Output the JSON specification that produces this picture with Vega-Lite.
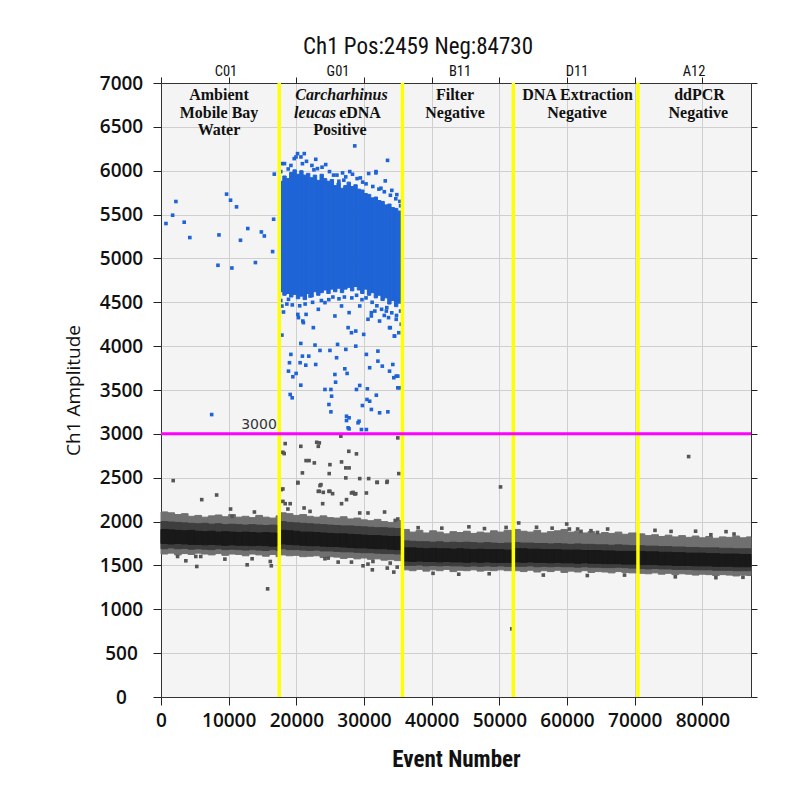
{
"$schema": "https://vega.github.io/schema/vega-lite/v6.json",
"width": 590, "height": 614,
"autosize": {"type": "none"},
"padding": {"left": 161, "top": 83, "right": 58, "bottom": 115},
"background": "white",
"title": {"text": "Ch1 Pos:2459 Neg:84730", "font": "Roboto Condensed, Roboto, sans-serif", "fontSize": 23, "fontWeight": "normal", "color": "#111", "dx": -38, "offset": 5, "anchor": "middle"},
"config": {
  "view": {"fill": "#f4f4f4", "stroke": "#555", "strokeWidth": 1},
  "axis": {"gridColor": "#cfcfcf", "gridWidth": 1, "tickColor": "#222", "domainColor": "#333", "labelFont": "Open Sans", "labelFontSize": 19, "labelColor": "#111", "labelFontWeight": 600, "tickSize": 8, "labelOverlap": false}
},
"datasets": {
  "band": [
    {"s":0,"e":1000,"o1":1630,"o2":2110,"m1":1690,"m2":2000,"c1":1750,"c2":1910},
    {"s":1000,"e":2000,"o1":1640,"o2":2100,"m1":1700,"m2":1995,"c1":1745,"c2":1905},
    {"s":2000,"e":3000,"o1":1620,"o2":2080,"m1":1690,"m2":1990,"c1":1750,"c2":1900},
    {"s":3000,"e":4000,"o1":1635,"o2":2090,"m1":1695,"m2":1985,"c1":1745,"c2":1895},
    {"s":4000,"e":5000,"o1":1625,"o2":2060,"m1":1685,"m2":1980,"c1":1740,"c2":1900},
    {"s":5000,"e":6000,"o1":1640,"o2":2070,"m1":1690,"m2":1975,"c1":1740,"c2":1890},
    {"s":6000,"e":7000,"o1":1630,"o2":2050,"m1":1685,"m2":1980,"c1":1735,"c2":1885},
    {"s":7000,"e":8000,"o1":1620,"o2":2065,"m1":1680,"m2":1970,"c1":1740,"c2":1890},
    {"s":8000,"e":9000,"o1":1635,"o2":2075,"m1":1690,"m2":1975,"c1":1735,"c2":1880},
    {"s":9000,"e":10000,"o1":1615,"o2":2055,"m1":1680,"m2":1965,"c1":1730,"c2":1885},
    {"s":10000,"e":11000,"o1":1630,"o2":2080,"m1":1685,"m2":1970,"c1":1735,"c2":1880},
    {"s":11000,"e":12000,"o1":1625,"o2":2050,"m1":1680,"m2":1965,"c1":1730,"c2":1875},
    {"s":12000,"e":13000,"o1":1610,"o2":2060,"m1":1675,"m2":1960,"c1":1730,"c2":1880},
    {"s":13000,"e":14000,"o1":1630,"o2":2045,"m1":1680,"m2":1965,"c1":1725,"c2":1875},
    {"s":14000,"e":15000,"o1":1620,"o2":2070,"m1":1675,"m2":1960,"c1":1730,"c2":1870},
    {"s":15000,"e":16000,"o1":1605,"o2":2050,"m1":1670,"m2":1955,"c1":1725,"c2":1875},
    {"s":16000,"e":17000,"o1":1625,"o2":2040,"m1":1680,"m2":1960,"c1":1720,"c2":1870},
    {"s":17000,"e":17474,"o1":1600,"o2":2065,"m1":1670,"m2":1955,"c1":1725,"c2":1865},
    {"s":17474,"e":18500,"o1":1620,"o2":2100,"m1":1690,"m2":2000,"c1":1745,"c2":1900},
    {"s":18500,"e":19500,"o1":1610,"o2":2090,"m1":1680,"m2":1990,"c1":1740,"c2":1895},
    {"s":19500,"e":20500,"o1":1615,"o2":2070,"m1":1680,"m2":1985,"c1":1735,"c2":1890},
    {"s":20500,"e":21500,"o1":1600,"o2":2080,"m1":1675,"m2":1980,"c1":1730,"c2":1880},
    {"s":21500,"e":22500,"o1":1605,"o2":2060,"m1":1670,"m2":1975,"c1":1725,"c2":1880},
    {"s":22500,"e":23500,"o1":1610,"o2":2050,"m1":1675,"m2":1970,"c1":1725,"c2":1875},
    {"s":23500,"e":24500,"o1":1590,"o2":2065,"m1":1665,"m2":1965,"c1":1720,"c2":1870},
    {"s":24500,"e":25500,"o1":1600,"o2":2045,"m1":1665,"m2":1960,"c1":1715,"c2":1865},
    {"s":25500,"e":26500,"o1":1595,"o2":2040,"m1":1660,"m2":1955,"c1":1715,"c2":1860},
    {"s":26500,"e":27500,"o1":1580,"o2":2055,"m1":1655,"m2":1950,"c1":1710,"c2":1860},
    {"s":27500,"e":28500,"o1":1590,"o2":2030,"m1":1655,"m2":1950,"c1":1705,"c2":1855},
    {"s":28500,"e":29500,"o1":1575,"o2":2040,"m1":1650,"m2":1945,"c1":1700,"c2":1850},
    {"s":29500,"e":30500,"o1":1585,"o2":2020,"m1":1645,"m2":1940,"c1":1700,"c2":1845},
    {"s":30500,"e":31500,"o1":1570,"o2":2010,"m1":1645,"m2":1935,"c1":1695,"c2":1840},
    {"s":31500,"e":32500,"o1":1575,"o2":2025,"m1":1640,"m2":1930,"c1":1690,"c2":1840},
    {"s":32500,"e":33500,"o1":1560,"o2":2000,"m1":1635,"m2":1930,"c1":1690,"c2":1835},
    {"s":33500,"e":34500,"o1":1565,"o2":1990,"m1":1635,"m2":1925,"c1":1685,"c2":1830},
    {"s":34500,"e":35683,"o1":1555,"o2":2010,"m1":1630,"m2":1920,"c1":1680,"c2":1830},
    {"s":35683,"e":36700,"o1":1450,"o2":1910,"m1":1500,"m2":1780,"c1":1550,"c2":1700},
    {"s":36700,"e":37700,"o1":1440,"o2":1880,"m1":1500,"m2":1775,"c1":1545,"c2":1700},
    {"s":37700,"e":38700,"o1":1455,"o2":1900,"m1":1505,"m2":1770,"c1":1550,"c2":1695},
    {"s":38700,"e":39700,"o1":1435,"o2":1870,"m1":1495,"m2":1770,"c1":1545,"c2":1690},
    {"s":39700,"e":40700,"o1":1450,"o2":1895,"m1":1500,"m2":1765,"c1":1545,"c2":1695},
    {"s":40700,"e":41700,"o1":1440,"o2":1880,"m1":1495,"m2":1770,"c1":1540,"c2":1690},
    {"s":41700,"e":42700,"o1":1455,"o2":1860,"m1":1500,"m2":1760,"c1":1545,"c2":1690},
    {"s":42700,"e":43700,"o1":1430,"o2":1885,"m1":1495,"m2":1765,"c1":1540,"c2":1685},
    {"s":43700,"e":44700,"o1":1445,"o2":1875,"m1":1495,"m2":1760,"c1":1540,"c2":1690},
    {"s":44700,"e":45700,"o1":1440,"o2":1890,"m1":1490,"m2":1765,"c1":1535,"c2":1685},
    {"s":45700,"e":46700,"o1":1450,"o2":1865,"m1":1495,"m2":1760,"c1":1540,"c2":1680},
    {"s":46700,"e":47700,"o1":1435,"o2":1880,"m1":1490,"m2":1755,"c1":1535,"c2":1685},
    {"s":47700,"e":48700,"o1":1445,"o2":1870,"m1":1495,"m2":1760,"c1":1540,"c2":1680},
    {"s":48700,"e":49700,"o1":1440,"o2":1895,"m1":1490,"m2":1755,"c1":1535,"c2":1680},
    {"s":49700,"e":50700,"o1":1450,"o2":1880,"m1":1495,"m2":1750,"c1":1535,"c2":1680},
    {"s":50700,"e":52070,"o1":1440,"o2":1900,"m1":1490,"m2":1755,"c1":1535,"c2":1675},
    {"s":52070,"e":53100,"o1":1440,"o2":1910,"m1":1490,"m2":1760,"c1":1540,"c2":1690},
    {"s":53100,"e":54100,"o1":1430,"o2":1890,"m1":1490,"m2":1755,"c1":1535,"c2":1690},
    {"s":54100,"e":55100,"o1":1445,"o2":1880,"m1":1495,"m2":1755,"c1":1540,"c2":1685},
    {"s":55100,"e":56100,"o1":1425,"o2":1900,"m1":1485,"m2":1750,"c1":1535,"c2":1685},
    {"s":56100,"e":57100,"o1":1440,"o2":1870,"m1":1490,"m2":1750,"c1":1535,"c2":1680},
    {"s":57100,"e":58100,"o1":1430,"o2":1885,"m1":1485,"m2":1745,"c1":1530,"c2":1680},
    {"s":58100,"e":59100,"o1":1445,"o2":1895,"m1":1490,"m2":1750,"c1":1535,"c2":1680},
    {"s":59100,"e":60100,"o1":1420,"o2":1910,"m1":1485,"m2":1745,"c1":1530,"c2":1675},
    {"s":60100,"e":61100,"o1":1435,"o2":1880,"m1":1485,"m2":1740,"c1":1530,"c2":1675},
    {"s":61100,"e":62100,"o1":1425,"o2":1890,"m1":1480,"m2":1745,"c1":1525,"c2":1675},
    {"s":62100,"e":63100,"o1":1440,"o2":1870,"m1":1485,"m2":1740,"c1":1530,"c2":1670},
    {"s":63100,"e":64100,"o1":1420,"o2":1885,"m1":1480,"m2":1740,"c1":1525,"c2":1670},
    {"s":64100,"e":65100,"o1":1430,"o2":1860,"m1":1480,"m2":1735,"c1":1525,"c2":1670},
    {"s":65100,"e":66100,"o1":1425,"o2":1875,"m1":1475,"m2":1735,"c1":1520,"c2":1665},
    {"s":66100,"e":67100,"o1":1415,"o2":1865,"m1":1475,"m2":1730,"c1":1520,"c2":1665},
    {"s":67100,"e":68100,"o1":1430,"o2":1880,"m1":1480,"m2":1735,"c1":1520,"c2":1660},
    {"s":68100,"e":69100,"o1":1420,"o2":1855,"m1":1475,"m2":1730,"c1":1515,"c2":1660},
    {"s":69100,"e":70485,"o1":1415,"o2":1870,"m1":1470,"m2":1725,"c1":1515,"c2":1660},
    {"s":70485,"e":71500,"o1":1410,"o2":1860,"m1":1465,"m2":1725,"c1":1510,"c2":1660},
    {"s":71500,"e":72500,"o1":1405,"o2":1840,"m1":1460,"m2":1720,"c1":1510,"c2":1655},
    {"s":72500,"e":73500,"o1":1415,"o2":1850,"m1":1465,"m2":1720,"c1":1510,"c2":1655},
    {"s":73500,"e":74500,"o1":1400,"o2":1830,"m1":1460,"m2":1715,"c1":1505,"c2":1650},
    {"s":74500,"e":75500,"o1":1410,"o2":1845,"m1":1460,"m2":1715,"c1":1505,"c2":1650},
    {"s":75500,"e":76500,"o1":1395,"o2":1825,"m1":1455,"m2":1710,"c1":1500,"c2":1645},
    {"s":76500,"e":77500,"o1":1405,"o2":1840,"m1":1455,"m2":1710,"c1":1500,"c2":1645},
    {"s":77500,"e":78500,"o1":1400,"o2":1820,"m1":1455,"m2":1705,"c1":1500,"c2":1640},
    {"s":78500,"e":79500,"o1":1390,"o2":1835,"m1":1450,"m2":1705,"c1":1495,"c2":1640},
    {"s":79500,"e":80500,"o1":1400,"o2":1815,"m1":1450,"m2":1700,"c1":1495,"c2":1640},
    {"s":80500,"e":81500,"o1":1395,"o2":1830,"m1":1450,"m2":1700,"c1":1495,"c2":1635},
    {"s":81500,"e":82500,"o1":1385,"o2":1810,"m1":1445,"m2":1700,"c1":1490,"c2":1635},
    {"s":82500,"e":83500,"o1":1395,"o2":1825,"m1":1445,"m2":1695,"c1":1490,"c2":1630},
    {"s":83500,"e":84500,"o1":1390,"o2":1820,"m1":1445,"m2":1695,"c1":1490,"c2":1630},
    {"s":84500,"e":85500,"o1":1380,"o2":1835,"m1":1440,"m2":1690,"c1":1485,"c2":1630},
    {"s":85500,"e":86500,"o1":1390,"o2":1815,"m1":1440,"m2":1690,"c1":1485,"c2":1625},
    {"s":86500,"e":87189,"o1":1385,"o2":1825,"m1":1440,"m2":1690,"c1":1485,"c2":1625}
  ],
  "cloud": [
    {"s":17474,"e":18000,"lo":4620,"hi":5880},
    {"s":18000,"e":18500,"lo":4580,"hi":5940},
    {"s":18500,"e":19000,"lo":4600,"hi":5910},
    {"s":19000,"e":19500,"lo":4560,"hi":5980},
    {"s":19500,"e":20000,"lo":4590,"hi":6010},
    {"s":20000,"e":20500,"lo":4540,"hi":5960},
    {"s":20500,"e":21000,"lo":4570,"hi":6000},
    {"s":21000,"e":21500,"lo":4530,"hi":5950},
    {"s":21500,"e":22000,"lo":4600,"hi":5970},
    {"s":22000,"e":22500,"lo":4560,"hi":5920},
    {"s":22500,"e":23000,"lo":4620,"hi":5950},
    {"s":23000,"e":23500,"lo":4580,"hi":5890},
    {"s":23500,"e":24000,"lo":4610,"hi":5960},
    {"s":24000,"e":24500,"lo":4640,"hi":5910},
    {"s":24500,"e":25000,"lo":4600,"hi":5880},
    {"s":25000,"e":25500,"lo":4650,"hi":5900},
    {"s":25500,"e":26000,"lo":4620,"hi":5830},
    {"s":26000,"e":26500,"lo":4660,"hi":5860},
    {"s":26500,"e":27000,"lo":4610,"hi":5800},
    {"s":27000,"e":27500,"lo":4650,"hi":5830},
    {"s":27500,"e":28000,"lo":4670,"hi":5870},
    {"s":28000,"e":28500,"lo":4630,"hi":5820},
    {"s":28500,"e":29000,"lo":4680,"hi":5840},
    {"s":29000,"e":29500,"lo":4640,"hi":5790},
    {"s":29500,"e":30000,"lo":4600,"hi":5780},
    {"s":30000,"e":30500,"lo":4650,"hi":5740},
    {"s":30500,"e":31000,"lo":4580,"hi":5730},
    {"s":31000,"e":31500,"lo":4610,"hi":5690},
    {"s":31500,"e":32000,"lo":4550,"hi":5700},
    {"s":32000,"e":32500,"lo":4580,"hi":5660},
    {"s":32500,"e":33000,"lo":4520,"hi":5650},
    {"s":33000,"e":33500,"lo":4550,"hi":5610},
    {"s":33500,"e":34000,"lo":4480,"hi":5620},
    {"s":34000,"e":34500,"lo":4520,"hi":5580},
    {"s":34500,"e":35000,"lo":4450,"hi":5570},
    {"s":35000,"e":35683,"lo":4490,"hi":5540}
  ],
  "drops": [
    {"event":1806,"amp":2467,"cls":"neg"},{"event":6020,"amp":2250,"cls":"neg"},{"event":8223,"amp":2303,"cls":"neg"},{"event":10279,"amp":2143,"cls":"neg"},{"event":13803,"amp":2109,"cls":"neg"},{"event":10528,"amp":2059,"cls":"neg"},{"event":2452,"amp":1602,"cls":"neg"},{"event":3671,"amp":1553,"cls":"neg"},{"event":5139,"amp":1602,"cls":"neg"},{"event":5874,"amp":1602,"cls":"neg"},{"event":5286,"amp":1488,"cls":"neg"},{"event":9442,"amp":1572,"cls":"neg"},{"event":12731,"amp":1507,"cls":"neg"},{"event":13465,"amp":1576,"cls":"neg"},{"event":16152,"amp":1545,"cls":"neg"},{"event":16299,"amp":1496,"cls":"neg"},{"event":15756,"amp":1233,"cls":"neg"},
    {"event":17768,"amp":2364,"cls":"neg"},{"event":18017,"amp":2230,"cls":"neg"},{"event":18355,"amp":2204,"cls":"neg"},{"event":19089,"amp":2204,"cls":"neg"},{"event":18752,"amp":2143,"cls":"neg"},{"event":20220,"amp":2440,"cls":"neg"},{"event":21145,"amp":2155,"cls":"neg"},{"event":22026,"amp":2116,"cls":"neg"},{"event":23245,"amp":2345,"cls":"neg"},{"event":23979,"amp":2333,"cls":"neg"},{"event":24816,"amp":2345,"cls":"neg"},{"event":25359,"amp":2318,"cls":"neg"},{"event":23891,"amp":2204,"cls":"neg"},{"event":26681,"amp":2204,"cls":"neg"},{"event":27415,"amp":2250,"cls":"neg"},{"event":28384,"amp":2333,"cls":"neg"},{"event":28781,"amp":2318,"cls":"neg"},{"event":30352,"amp":2326,"cls":"neg"},{"event":29368,"amp":2098,"cls":"neg"},{"event":30587,"amp":2098,"cls":"neg"},{"event":33039,"amp":2109,"cls":"neg"},{"event":34610,"amp":2013,"cls":"neg"},{"event":34992,"amp":2029,"cls":"neg"},{"event":23494,"amp":2410,"cls":"neg"},{"event":31967,"amp":2447,"cls":"neg"},{"event":33377,"amp":2447,"cls":"neg"},
    {"event":18355,"amp":2889,"cls":"neg"},{"event":18017,"amp":2790,"cls":"neg"},{"event":18208,"amp":2775,"cls":"neg"},{"event":20661,"amp":2858,"cls":"neg"},{"event":23010,"amp":2904,"cls":"neg"},{"event":23391,"amp":2897,"cls":"neg"},{"event":23245,"amp":2858,"cls":"neg"},{"event":26578,"amp":2973,"cls":"neg"},{"event":27752,"amp":2801,"cls":"neg"},{"event":28884,"amp":2772,"cls":"neg"},{"event":21439,"amp":2695,"cls":"neg"},{"event":21880,"amp":2695,"cls":"neg"},{"event":22657,"amp":2669,"cls":"neg"},{"event":24963,"amp":2649,"cls":"neg"},{"event":26681,"amp":2680,"cls":"neg"},{"event":27312,"amp":2612,"cls":"neg"},{"event":27797,"amp":2612,"cls":"neg"},{"event":20896,"amp":2555,"cls":"neg"},{"event":24860,"amp":2547,"cls":"neg"},{"event":27312,"amp":2498,"cls":"neg"},{"event":29368,"amp":2490,"cls":"neg"},{"event":30689,"amp":2490,"cls":"neg"},{"event":31908,"amp":2447,"cls":"neg"},{"event":33436,"amp":2459,"cls":"neg"},{"event":34992,"amp":2954,"cls":"neg"},{"event":35140,"amp":2547,"cls":"neg"},{"event":20220,"amp":2447,"cls":"neg"},{"event":23641,"amp":2421,"cls":"neg"},{"event":23391,"amp":2345,"cls":"neg"},{"event":24963,"amp":2345,"cls":"neg"},{"event":28149,"amp":2326,"cls":"neg"},{"event":28634,"amp":2315,"cls":"neg"},{"event":18017,"amp":2372,"cls":"neg"},
    {"event":26181,"amp":1538,"cls":"neg"},{"event":28149,"amp":1538,"cls":"neg"},{"event":29853,"amp":1496,"cls":"neg"},{"event":30587,"amp":1515,"cls":"neg"},{"event":31321,"amp":1545,"cls":"neg"},{"event":31233,"amp":1450,"cls":"neg"},{"event":33436,"amp":1470,"cls":"neg"},{"event":33876,"amp":1527,"cls":"neg"},{"event":34405,"amp":1424,"cls":"neg"},{"event":34904,"amp":1481,"cls":"neg"},{"event":24229,"amp":1576,"cls":"neg"},{"event":24713,"amp":1584,"cls":"neg"},
    {"event":50175,"amp":2395,"cls":"neg"},{"event":50997,"amp":1933,"cls":"neg"},{"event":52862,"amp":1984,"cls":"neg"},{"event":59956,"amp":1972,"cls":"neg"},{"event":60351,"amp":1915,"cls":"neg"},{"event":61570,"amp":1915,"cls":"neg"},{"event":62069,"amp":1888,"cls":"neg"},{"event":63537,"amp":1896,"cls":"neg"},{"event":64506,"amp":1876,"cls":"neg"},{"event":75374,"amp":1888,"cls":"neg"},{"event":84683,"amp":1858,"cls":"neg"},{"event":81256,"amp":1850,"cls":"neg"},{"event":77972,"amp":2741,"cls":"neg"},{"event":51835,"amp":777,"cls":"neg"},
    {"event":38000,"amp":1930,"cls":"neg"},{"event":41500,"amp":1925,"cls":"neg"},{"event":45500,"amp":1940,"cls":"neg"},{"event":47800,"amp":1920,"cls":"neg"},{"event":55500,"amp":1935,"cls":"neg"},{"event":57800,"amp":1925,"cls":"neg"},{"event":66000,"amp":1915,"cls":"neg"},{"event":73000,"amp":1900,"cls":"neg"},{"event":79000,"amp":1890,"cls":"neg"},{"event":83500,"amp":1885,"cls":"neg"},
    {"event":40200,"amp":1410,"cls":"neg"},{"event":44000,"amp":1400,"cls":"neg"},{"event":48500,"amp":1405,"cls":"neg"},{"event":56500,"amp":1390,"cls":"neg"},{"event":63000,"amp":1385,"cls":"neg"},{"event":68500,"amp":1390,"cls":"neg"},{"event":76000,"amp":1370,"cls":"neg"},{"event":82000,"amp":1360,"cls":"neg"},{"event":86000,"amp":1365,"cls":"neg"},
    {"event":734,"amp":5398,"cls":"pos"},{"event":1718,"amp":5493,"cls":"pos"},{"event":2203,"amp":5649,"cls":"pos"},{"event":3426,"amp":5413,"cls":"pos"},{"event":4259,"amp":5238,"cls":"pos"},{"event":8566,"amp":5268,"cls":"pos"},{"event":9692,"amp":5733,"cls":"pos"},{"event":10279,"amp":5664,"cls":"pos"},{"event":11160,"amp":5588,"cls":"pos"},{"event":12823,"amp":5341,"cls":"pos"},{"event":11747,"amp":5207,"cls":"pos"},{"event":8419,"amp":4922,"cls":"pos"},{"event":10475,"amp":4891,"cls":"pos"},{"event":13950,"amp":4953,"cls":"pos"},{"event":14831,"amp":5302,"cls":"pos"},{"event":15272,"amp":5256,"cls":"pos"},{"event":16642,"amp":5447,"cls":"pos"},{"event":16495,"amp":5078,"cls":"pos"},{"event":7489,"amp":3220,"cls":"pos"},{"event":16740,"amp":5961,"cls":"pos"},
    {"event":17870,"amp":6081,"cls":"pos"},{"event":19690,"amp":6138,"cls":"pos"},{"event":20180,"amp":6195,"cls":"pos"},{"event":21170,"amp":6195,"cls":"pos"},{"event":20680,"amp":6157,"cls":"pos"},{"event":21500,"amp":6107,"cls":"pos"},{"event":22870,"amp":6130,"cls":"pos"},{"event":24340,"amp":6070,"cls":"pos"},{"event":23120,"amp":6024,"cls":"pos"},{"event":26830,"amp":5975,"cls":"pos"},{"event":28630,"amp":6283,"cls":"pos"},{"event":28980,"amp":5910,"cls":"pos"},{"event":29460,"amp":5918,"cls":"pos"},{"event":30690,"amp":5968,"cls":"pos"},{"event":31760,"amp":5975,"cls":"pos"},{"event":33140,"amp":5884,"cls":"pos"},{"event":33480,"amp":6118,"cls":"pos"},{"event":34110,"amp":5776,"cls":"pos"},{"event":34850,"amp":5727,"cls":"pos"},{"event":26290,"amp":5880,"cls":"pos"},{"event":27020,"amp":5892,"cls":"pos"},{"event":19950,"amp":6157,"cls":"pos"},{"event":18250,"amp":6081,"cls":"pos"},{"event":27900,"amp":5990,"cls":"pos"},{"event":31770,"amp":5990,"cls":"pos"},{"event":25500,"amp":5950,"cls":"pos"},{"event":32500,"amp":5800,"cls":"pos"},{"event":35300,"amp":5650,"cls":"pos"},{"event":18800,"amp":6020,"cls":"pos"},{"event":22300,"amp":6060,"cls":"pos"},
    {"event":17700,"amp":5990,"cls":"pos"},{"event":19200,"amp":6060,"cls":"pos"},{"event":20900,"amp":6080,"cls":"pos"},{"event":22600,"amp":6010,"cls":"pos"},{"event":23800,"amp":6040,"cls":"pos"},{"event":24900,"amp":5990,"cls":"pos"},{"event":26000,"amp":5950,"cls":"pos"},{"event":27300,"amp":5930,"cls":"pos"},{"event":28300,"amp":5960,"cls":"pos"},{"event":29800,"amp":5870,"cls":"pos"},{"event":30300,"amp":5850,"cls":"pos"},{"event":31300,"amp":5820,"cls":"pos"},{"event":32200,"amp":5790,"cls":"pos"},{"event":33000,"amp":5760,"cls":"pos"},{"event":33900,"amp":5720,"cls":"pos"},{"event":34700,"amp":5680,"cls":"pos"},{"event":35400,"amp":5600,"cls":"pos"},
    {"event":17700,"amp":4520,"cls":"pos"},{"event":18600,"amp":4480,"cls":"pos"},{"event":19400,"amp":4470,"cls":"pos"},{"event":20500,"amp":4460,"cls":"pos"},{"event":21300,"amp":4480,"cls":"pos"},{"event":22400,"amp":4500,"cls":"pos"},{"event":23700,"amp":4520,"cls":"pos"},{"event":24800,"amp":4530,"cls":"pos"},{"event":25400,"amp":4560,"cls":"pos"},{"event":26300,"amp":4540,"cls":"pos"},{"event":27100,"amp":4560,"cls":"pos"},{"event":28200,"amp":4550,"cls":"pos"},{"event":28900,"amp":4580,"cls":"pos"},{"event":29700,"amp":4530,"cls":"pos"},{"event":30300,"amp":4550,"cls":"pos"},{"event":31200,"amp":4500,"cls":"pos"},{"event":31900,"amp":4460,"cls":"pos"},{"event":32600,"amp":4420,"cls":"pos"},{"event":33300,"amp":4400,"cls":"pos"},{"event":34100,"amp":4380,"cls":"pos"},{"event":34800,"amp":4350,"cls":"pos"},{"event":35400,"amp":4400,"cls":"pos"},{"event":35500,"amp":4250,"cls":"pos"},{"event":33000,"amp":4350,"cls":"pos"},{"event":31600,"amp":4400,"cls":"pos"},
    {"event":17871,"amp":4457,"cls":"pos"},{"event":18105,"amp":4389,"cls":"pos"},{"event":20220,"amp":4362,"cls":"pos"},{"event":20955,"amp":4286,"cls":"pos"},{"event":34992,"amp":4514,"cls":"pos"},{"event":35140,"amp":4153,"cls":"pos"},{"event":34757,"amp":3658,"cls":"pos"},{"event":35242,"amp":3525,"cls":"pos"},{"event":18840,"amp":4534,"cls":"pos"},{"event":22020,"amp":4572,"cls":"pos"},{"event":23250,"amp":4420,"cls":"pos"},{"event":24230,"amp":4496,"cls":"pos"},{"event":25700,"amp":4344,"cls":"pos"},{"event":26680,"amp":4458,"cls":"pos"},{"event":27800,"amp":4382,"cls":"pos"},{"event":29370,"amp":4458,"cls":"pos"},{"event":30590,"amp":4306,"cls":"pos"},{"event":31080,"amp":4344,"cls":"pos"},{"event":32300,"amp":4286,"cls":"pos"},{"event":33370,"amp":4439,"cls":"pos"},{"event":33880,"amp":4210,"cls":"pos"},{"event":34500,"amp":4115,"cls":"pos"},{"event":34760,"amp":4306,"cls":"pos"},{"event":35000,"amp":4534,"cls":"pos"},
    {"event":17871,"amp":4126,"cls":"pos"},{"event":19192,"amp":3906,"cls":"pos"},{"event":18987,"amp":3811,"cls":"pos"},{"event":18840,"amp":3715,"cls":"pos"},{"event":19486,"amp":3651,"cls":"pos"},{"event":19970,"amp":3689,"cls":"pos"},{"event":20661,"amp":3555,"cls":"pos"},{"event":20661,"amp":4031,"cls":"pos"},{"event":20896,"amp":3886,"cls":"pos"},{"event":20558,"amp":3811,"cls":"pos"},{"event":21395,"amp":3783,"cls":"pos"},{"event":21835,"amp":3886,"cls":"pos"},{"event":22760,"amp":4012,"cls":"pos"},{"event":22863,"amp":3791,"cls":"pos"},{"event":23494,"amp":3951,"cls":"pos"},{"event":24229,"amp":3506,"cls":"pos"},{"event":24963,"amp":3951,"cls":"pos"},{"event":25110,"amp":3506,"cls":"pos"},{"event":25212,"amp":3429,"cls":"pos"},{"event":24816,"amp":3335,"cls":"pos"},{"event":25110,"amp":3251,"cls":"pos"},{"event":25697,"amp":3677,"cls":"pos"},{"event":25800,"amp":3589,"cls":"pos"},{"event":25947,"amp":3868,"cls":"pos"},{"event":26093,"amp":4020,"cls":"pos"},{"event":27312,"amp":3963,"cls":"pos"},{"event":27165,"amp":3742,"cls":"pos"},{"event":27503,"amp":3689,"cls":"pos"},{"event":27797,"amp":3183,"cls":"pos"},{"event":27415,"amp":3152,"cls":"pos"},{"event":27650,"amp":3069,"cls":"pos"},{"event":28781,"amp":4000,"cls":"pos"},{"event":28884,"amp":3506,"cls":"pos"},{"event":29368,"amp":3552,"cls":"pos"},{"event":29265,"amp":3144,"cls":"pos"},{"event":29765,"amp":3323,"cls":"pos"},{"event":30499,"amp":3514,"cls":"pos"},{"event":30440,"amp":3392,"cls":"pos"},{"event":30836,"amp":3372,"cls":"pos"},{"event":31086,"amp":3278,"cls":"pos"},{"event":30352,"amp":3906,"cls":"pos"},{"event":30836,"amp":3754,"cls":"pos"},{"event":32055,"amp":3829,"cls":"pos"},{"event":32055,"amp":3943,"cls":"pos"},{"event":32701,"amp":3772,"cls":"pos"},{"event":31820,"amp":3441,"cls":"pos"},{"event":32305,"amp":3240,"cls":"pos"},{"event":33524,"amp":3251,"cls":"pos"},{"event":33773,"amp":3715,"cls":"pos"},{"event":34258,"amp":3791,"cls":"pos"},{"event":34405,"amp":3640,"cls":"pos"},{"event":34992,"amp":3525,"cls":"pos"},{"event":34992,"amp":3658,"cls":"pos"},{"event":30352,"amp":3049,"cls":"pos"},{"event":27797,"amp":3057,"cls":"pos"},{"event":19383,"amp":3411,"cls":"pos"},{"event":19089,"amp":3449,"cls":"pos"},{"event":22511,"amp":4211,"cls":"pos"},{"event":27650,"amp":4211,"cls":"pos"},{"event":28149,"amp":4153,"cls":"pos"},{"event":28781,"amp":4172,"cls":"pos"},{"event":29955,"amp":4134,"cls":"pos"},{"event":33773,"amp":4211,"cls":"pos"},{"event":34507,"amp":4115,"cls":"pos"},{"event":31086,"amp":4382,"cls":"pos"},{"event":33626,"amp":4325,"cls":"pos"},{"event":21439,"amp":4362,"cls":"pos"},{"event":20308,"amp":4325,"cls":"pos"},{"event":21042,"amp":4268,"cls":"pos"},{"event":27415,"amp":3201,"cls":"pos"},{"event":29120,"amp":3126,"cls":"pos"},{"event":29618,"amp":3049,"cls":"pos"}
  ],
  "cuts": [{"event":17474},{"event":35683},{"event":52070},{"event":70485}],
  "threshold": [{"amp":3000,"event":14482,"label":"3000"}],
  "wells": [{"well":"C01","event":9606},{"well":"G01","event":26157},{"well":"B11","event":44186},{"well":"D11","event":61476},{"well":"A12","event":78767}],
  "notes": [
    {"label":"Ambient","event":8571,"amp":6860,"part":"plain"},
    {"label":"Mobile Bay","event":8571,"amp":6660,"part":"plain"},
    {"label":"Water","event":8571,"amp":6460,"part":"plain"},
    {"label":"Carcharhinus","event":26674,"amp":6860,"part":"species"},
    {"label":"leucas","event":22758,"amp":6660,"part":"species"},
    {"label":"eDNA","event":29408,"amp":6660,"part":"plain"},
    {"label":"Positive","event":26453,"amp":6460,"part":"plain"},
    {"label":"Filter","event":43447,"amp":6860,"part":"plain"},
    {"label":"Negative","event":43447,"amp":6660,"part":"plain"},
    {"label":"DNA Extraction","event":61550,"amp":6860,"part":"plain"},
    {"label":"Negative","event":61476,"amp":6660,"part":"plain"},
    {"label":"ddPCR","event":79580,"amp":6860,"part":"plain"},
    {"label":"Negative","event":79400,"amp":6660,"part":"plain"}
  ]
},
"layer": [
  {
    "data": {"name": "band"},
    "mark": {"type": "rect", "color": "#707070", "stroke": "#707070", "strokeWidth": 1},
    "encoding": {
      "x": {"field": "s", "type": "quantitative", "scale": {"domain": [0, 87189], "nice": false, "zero": false},
        "axis": {"orient": "bottom", "values": [0,10000,20000,30000,40000,50000,60000,70000,80000], "format": "d", "grid": true, "labelFlush": false, "labelPadding": 6,
          "title": "Event Number", "titleFont": "Roboto Condensed, Roboto, sans-serif", "titleFontSize": 23, "titleFontWeight": "bold", "titleColor": "#111", "titlePadding": 18}},
      "x2": {"field": "e"},
      "y": {"field": "o1", "type": "quantitative", "scale": {"domain": [0, 7000], "nice": false, "zero": true},
        "axis": {"orient": "left", "values": [0,500,1000,1500,2000,2500,3000,3500,4000,4500,5000,5500,6000,6500,7000], "format": "d", "grid": true, "labelAlign": "center", "labelPadding": 32,
          "title": "Ch1 Amplitude", "titleFont": "Open Sans", "titleFontSize": 19, "titleFontWeight": "normal", "titleColor": "#111", "titlePadding": 16}},
      "y2": {"field": "o2"}
    }
  },
  {
    "data": {"name": "band"},
    "mark": {"type": "rect", "color": "#3e3e3e", "stroke": "#3e3e3e", "strokeWidth": 1},
    "encoding": {
      "x": {"field": "s", "type": "quantitative", "scale": {"domain": [0, 87189], "nice": false, "zero": false},
        "axis": {"orient": "top", "values": [0,10000,20000,30000,40000,50000,60000,70000,80000], "labels": false, "grid": false, "tickSize": 6, "title": null}},
      "x2": {"field": "e"},
      "y": {"field": "m1", "type": "quantitative",
        "axis": {"orient": "right", "values": [0,500,1000,1500,2000,2500,3000,3500,4000,4500,5000,5500,6000,6500,7000], "labels": false, "grid": false, "tickSize": 6, "title": null}},
      "y2": {"field": "m2"}
    }
  },
  {
    "data": {"name": "band"},
    "mark": {"type": "rect", "color": "#191919", "stroke": "#191919", "strokeWidth": 1},
    "encoding": {
      "x": {"field": "s", "type": "quantitative", "axis": null},
      "x2": {"field": "e"},
      "y": {"field": "c1", "type": "quantitative", "axis": null},
      "y2": {"field": "c2"}
    }
  },
  {
    "data": {"name": "cloud"},
    "mark": {"type": "rect", "color": "#1f64d6", "stroke": "#1f64d6", "strokeWidth": 1},
    "encoding": {
      "x": {"field": "s", "type": "quantitative", "axis": null},
      "x2": {"field": "e"},
      "y": {"field": "lo", "type": "quantitative", "axis": null},
      "y2": {"field": "hi"}
    }
  },
  {
    "data": {"name": "drops"},
    "mark": {"type": "square", "size": 13, "filled": true, "opacity": 1},
    "encoding": {
      "x": {"field": "event", "type": "quantitative", "axis": null},
      "y": {"field": "amp", "type": "quantitative", "axis": null},
      "color": {"field": "cls", "type": "nominal", "scale": {"domain": ["neg", "pos"], "range": ["#555555", "#1f64d6"]}, "legend": null}
    }
  },
  {
    "data": {"name": "cuts"},
    "mark": {"type": "rule", "color": "#ffff00", "strokeWidth": 3.5},
    "encoding": {
      "x": {"field": "event", "type": "quantitative", "axis": null}
    }
  },
  {
    "data": {"name": "threshold"},
    "mark": {"type": "rule", "color": "#ff00ff", "strokeWidth": 3},
    "encoding": {
      "y": {"field": "amp", "type": "quantitative", "axis": null}
    }
  },
  {
    "data": {"name": "threshold"},
    "mark": {"type": "text", "font": "DejaVu Sans", "fontSize": 14, "color": "#333", "baseline": "bottom", "dy": -2},
    "encoding": {
      "x": {"field": "event", "type": "quantitative", "axis": null},
      "y": {"field": "amp", "type": "quantitative", "axis": null},
      "text": {"field": "label"}
    }
  },
  {
    "data": {"name": "wells"},
    "mark": {"type": "text", "font": "Roboto Condensed, Roboto, sans-serif", "fontSize": 14.5, "color": "#111", "baseline": "middle"},
    "encoding": {
      "x": {"field": "event", "type": "quantitative", "axis": null},
      "y": {"datum": 7130, "type": "quantitative", "axis": null},
      "text": {"field": "well"}
    }
  },
  {
    "data": {"name": "notes"},
    "transform": [{"filter": "datum.part === 'plain'"}],
    "mark": {"type": "text", "font": "Liberation Serif", "fontSize": 16, "fontWeight": "bold", "color": "#111", "baseline": "middle"},
    "encoding": {
      "x": {"field": "event", "type": "quantitative", "axis": null},
      "y": {"field": "amp", "type": "quantitative", "axis": null},
      "text": {"field": "label"}
    }
  },
  {
    "data": {"name": "notes"},
    "transform": [{"filter": "datum.part === 'species'"}],
    "mark": {"type": "text", "font": "Liberation Serif", "fontSize": 16, "fontWeight": "bold", "fontStyle": "italic", "color": "#111", "baseline": "middle"},
    "encoding": {
      "x": {"field": "event", "type": "quantitative", "axis": null},
      "y": {"field": "amp", "type": "quantitative", "axis": null},
      "text": {"field": "label"}
    }
  }
],
"resolve": {"axis": {"x": "independent", "y": "independent"}}
}
